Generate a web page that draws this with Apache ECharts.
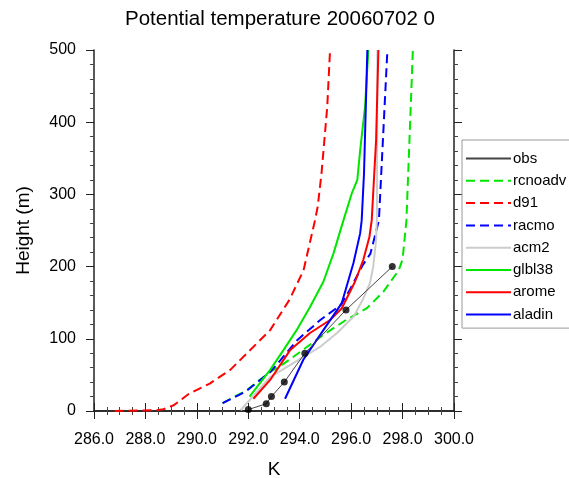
<!DOCTYPE html>
<html>
<head>
<meta charset="utf-8">
<script src="https://cdn.jsdelivr.net/npm/echarts@6/dist/echarts.min.js"></script>
<style>
  body { margin: 0; background: #fff; }
  #chart { width: 569px; height: 478px; }
</style>
</head>
<body>
<div id="chart"></div>
<script>
// observations (Cabauw tower levels)
const obsHeight = [2, 10, 20, 40, 80, 140, 200]
const obsTheta = [292.0, 292.7, 292.9, 293.4, 294.2, 295.8, 297.6]

// model profiles, [theta (K), height (m)]
const rcnoadv = [[291.0, 11], [291.9, 28], [292.85, 54], [293.4, 66], [294.1, 84], [294.9, 105], [295.8, 126], [296.6, 142], [297.25, 165], [297.85, 195], [298.0, 210], [298.15, 264], [298.4, 500]]
const d91 = [[286.8, 0], [288.4, 1], [288.7, 2.5], [289.1, 8], [289.7, 24], [290.5, 38], [291.3, 57], [292.85, 112], [293.6, 154], [294.15, 195], [294.6, 265], [294.7, 283], [294.85, 330], [295.07, 421], [295.18, 500]]
const racmo = [[291.0, 11], [291.9, 27], [292.85, 54], [293.1, 64], [293.9, 98], [294.8, 126], [295.6, 147], [295.95, 168], [296.45, 202], [296.75, 218], [297.08, 264], [297.41, 500]]
const acm2 = [[291.7, 1], [292.85, 47], [294.15, 75], [294.8, 89], [295.45, 108], [296.1, 131], [296.45, 154], [296.73, 177], [296.86, 200], [296.97, 237], [297.0, 264], [297.02, 500]]
const glbl38 = [[292.05, 20], [292.85, 57], [293.36, 84], [293.88, 112], [294.4, 144], [294.92, 179], [295.31, 218], [295.7, 264], [296.02, 301], [296.24, 320], [296.35, 361], [296.54, 421], [296.67, 500]]
const arome = [[292.2, 17], [292.85, 43], [293.62, 84], [294.4, 108], [295.18, 126], [295.63, 142], [296.15, 179], [296.47, 209], [296.71, 241], [296.8, 264], [296.97, 375], [297.06, 500]]
const aladin = [[293.43, 17], [294.14, 71], [294.92, 112], [295.63, 149], [296.09, 205], [296.35, 246], [296.41, 264], [296.5, 329], [296.63, 500]]

const legendNames = ['obs', 'rcnoadv', 'd91', 'racmo', 'acm2', 'glbl38', 'arome', 'aladin']

const font = 'Liberation Sans, Arial, sans-serif'
const dash = [9, 5]

function model(name, data, color, dashed) {
  return {
    name: name,
    type: 'line',
    data: data,
    symbol: 'none',
    lineStyle: { color: color, width: 2, type: dashed ? dash : 'solid' },
    itemStyle: { color: color },
    z: 2
  }
}

const chart = echarts.init(document.getElementById('chart'), null, { width: 569, height: 478 })

const sideAxis = {
  axisLine: { lineStyle: { color: '#222', width: 1.5 } },
  axisTick: { length: 8, lineStyle: { color: '#222' } },
  minorTick: { show: true, length: 4, lineStyle: { color: '#444' } },
  splitLine: { show: false }
}

chart.setOption({
  animation: false,
  title: {
    text: 'Potential temperature 20060702 0',
    left: 120,
    top: 4,
    textStyle: { fontFamily: font, fontSize: 20.5, fontWeight: 'normal', color: '#000' }
  },
  legend: {
    data: legendNames,
    orient: 'vertical',
    left: 462,
    top: 140,
    padding: [11, 12, 6, 3],
    itemWidth: 45,
    itemHeight: 14,
    itemGap: 7.3,
    itemStyle: { opacity: 0 },
    borderColor: '#999',
    borderWidth: 1,
    textStyle: { fontFamily: font, fontSize: 15, color: '#000', padding: [0, 0, 0, -3] }
  },
  grid: { left: 94, right: 115, top: 50, bottom: 67, outerBoundsMode: 'none' },
  xAxis: [
    Object.assign({}, sideAxis, {
      type: 'value',
      min: 286,
      max: 300,
      interval: 2,
      minorTick: Object.assign({}, sideAxis.minorTick, { splitNumber: 4 }),
      name: 'K',
      nameLocation: 'middle',
      nameGap: 49,
      nameTextStyle: { fontFamily: font, fontSize: 19, color: '#000' },
      axisLabel: {
        margin: 21,
        fontFamily: font,
        fontSize: 16,
        color: '#000',
        formatter: v => v.toFixed(1)
      }
    }),
    Object.assign({}, sideAxis, {
      type: 'value',
      position: 'top',
      min: 286,
      max: 300,
      interval: 2,
      minorTick: Object.assign({}, sideAxis.minorTick, { splitNumber: 4 }),
      axisLabel: { show: false }
    })
  ],
  yAxis: [
    Object.assign({}, sideAxis, {
      type: 'value',
      min: 0,
      max: 500,
      interval: 100,
      minorTick: Object.assign({}, sideAxis.minorTick, { splitNumber: 5 }),
      name: 'Height (m)',
      nameLocation: 'middle',
      nameGap: 61,
      nameTextStyle: { fontFamily: font, fontSize: 19, color: '#000' },
      axisLabel: { margin: 18, fontFamily: font, fontSize: 16, color: '#000' }
    }),
    Object.assign({}, sideAxis, {
      type: 'value',
      position: 'right',
      min: 0,
      max: 500,
      interval: 100,
      minorTick: Object.assign({}, sideAxis.minorTick, { splitNumber: 5 }),
      axisLabel: { show: false }
    })
  ],
  series: [
    model('rcnoadv', rcnoadv, '#00e600', true),
    model('d91', d91, '#ff0000', true),
    model('racmo', racmo, '#0000ff', true),
    model('acm2', acm2, '#cccccc', false),
    model('glbl38', glbl38, '#00e600', false),
    model('arome', arome, '#ff0000', false),
    model('aladin', aladin, '#0000ff', false),
    {
      name: 'obs',
      type: 'line',
      data: obsTheta.map((t, i) => [t, obsHeight[i]]),
      symbol: 'none',
      lineStyle: { color: '#444', width: 1 },
      itemStyle: { color: '#444' },
      z: 3
    },
    {
      name: 'obs points',
      type: 'scatter',
      data: obsTheta.map((t, i) => [t, obsHeight[i]]),
      symbolSize: 7,
      itemStyle: { color: '#000' },
      z: 4
    }
  ]
})
</script>
</body>
</html>
